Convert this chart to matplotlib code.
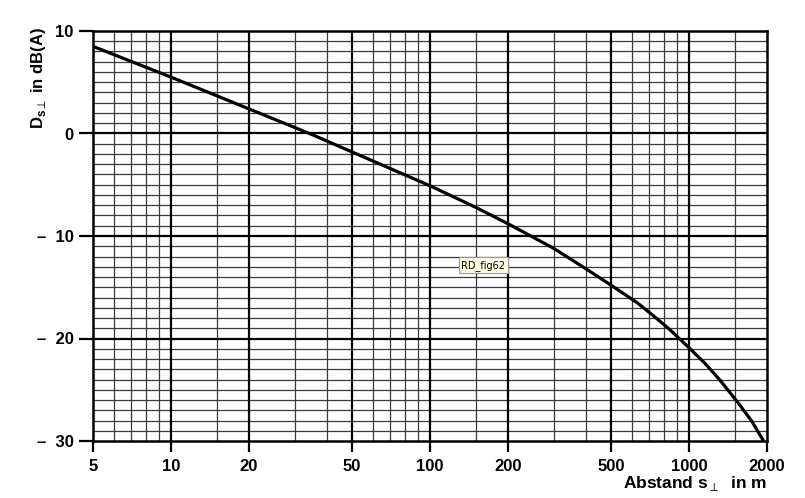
import numpy as np
import matplotlib
matplotlib.use('Agg')
import matplotlib.pyplot as plt
from matplotlib.ticker import FixedLocator, FixedFormatter, NullFormatter

plt.rcParams['font.family'] = ['Liberation Sans', 'DejaVu Sans']
plt.rcParams['mathtext.fontset'] = 'custom'
plt.rcParams['mathtext.rm'] = 'Liberation Sans:bold'
plt.rcParams['mathtext.bf'] = 'Liberation Sans:bold'

# curve: distance s (m) vs D (dB(A))
abstand = [5, 10, 20, 35, 50, 100, 150, 200, 300, 400, 500, 630, 730, 840, 1000,
           1150, 1320, 1550, 1750, 1940]
daempfung = [8.5, 5.5, 2.4, -0.1, -1.8, -5.1, -7.2, -8.8, -11.2, -13.2, -14.8, -16.5,
             -17.8, -19.1, -20.9, -22.4, -24.1, -26.3, -28.1, -30.0]

x_major = [5, 10, 20, 50, 100, 200, 500, 1000, 2000]
x_major_labels = ['5', '10', '20', '50', '100', '200', '500', '1000', '2000']
x_minor = [6, 7, 8, 9, 15, 30, 40, 60, 70, 80, 90, 150, 300, 400, 600, 700, 800, 900, 1500]
y_major = [10, 0, -10, -20, -30]
y_major_labels = ['10', '0', '–  10', '–  20', '–  30']
y_minor = [v for v in range(-30, 11) if v % 10 != 0]

fig = plt.figure(figsize=(8.05, 4.98), dpi=100)
ax = fig.add_axes([93/805, 1-441/498, (767-93)/805, (441-31)/498])

ax.set_xscale('log')
ax.set_xlim(5, 2000)
ax.set_ylim(-30, 10)

# grid: thin lines for minor, heavy for major
for v in x_minor:
    ax.axvline(v, color='#3a3a3a', lw=0.9, zorder=1)
for v in x_major[1:-1]:
    ax.axvline(v, color='black', lw=1.6, zorder=2)
for v in y_minor:
    ax.axhline(v, color='#3a3a3a', lw=0.9, zorder=1)
for v in y_major[1:-1]:
    ax.axhline(v, color='black', lw=1.6, zorder=2)

ax.plot(abstand, daempfung, color='black', lw=2.3, zorder=3,
        solid_capstyle='butt', solid_joinstyle='round')

for sp in ax.spines.values():
    sp.set_linewidth(1.8)

ax.xaxis.set_major_locator(FixedLocator(x_major))
ax.xaxis.set_major_formatter(FixedFormatter(x_major_labels))
ax.xaxis.set_minor_locator(FixedLocator([]))
ax.xaxis.set_minor_formatter(NullFormatter())
ax.yaxis.set_major_locator(FixedLocator(y_major))
ax.yaxis.set_major_formatter(FixedFormatter(y_major_labels))

ax.tick_params(axis='x', direction='out', length=8, width=1.6, pad=5, labelsize=12)
ax.tick_params(axis='y', direction='out', length=10, width=1.6, pad=4, labelsize=12)
for lab in ax.get_xticklabels() + ax.get_yticklabels():
    lab.set_fontweight('bold')

fig.text(38/805, 1-78/498, r'D$_{\mathrm{s}\perp}$ in dB(A)', rotation=90,
         ha='center', va='center', fontsize=12, fontweight='bold')
fig.text(767/805, 1-483/498, r'Abstand s$_{\perp}$  in m', ha='right', va='center',
         fontsize=12.5, fontweight='bold')

ax.text(0.579, 0.429, 'RD_fig62', transform=ax.transAxes, ha='center', va='center',
        fontsize=7, family='DejaVu Sans', zorder=5,
        bbox=dict(boxstyle='square,pad=0.25', fc='#ffffe1', ec='#999999', lw=0.8))

fig.savefig('out.png', dpi=100)
